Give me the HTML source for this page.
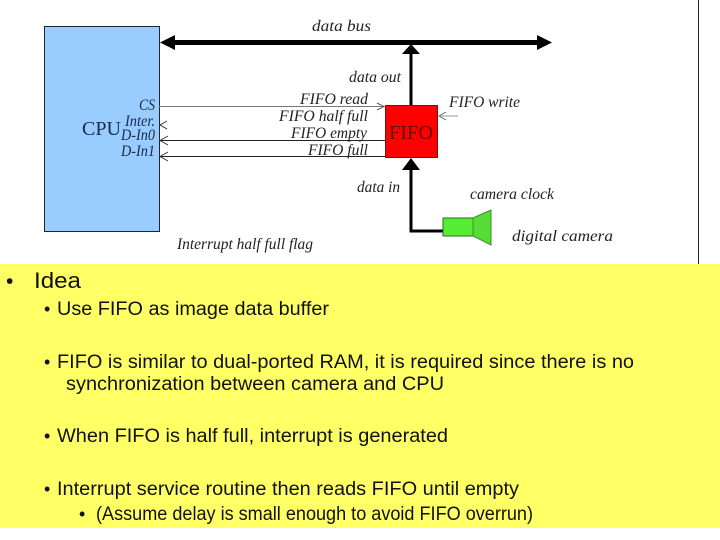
<!DOCTYPE html>
<html><head><meta charset="utf-8"><style>
html,body{margin:0;padding:0;background:#fff;width:720px;height:540px;overflow:hidden}
svg{display:block}
.s{font-family:"Liberation Serif",serif;font-style:italic;font-size:16px;fill:#222}
.a{font-family:"Liberation Sans",sans-serif;font-size:19px;fill:#111}
</style></head><body>
<svg width="720" height="540" viewBox="0 0 720 540" xmlns="http://www.w3.org/2000/svg">
<rect width="720" height="540" fill="#fff"/>
<line x1="698.500" y1="0" x2="698.500" y2="264" stroke="#222" stroke-width="1"/>
<rect x="44.500" y="26.500" width="115" height="205" fill="#99ccff" stroke="#223" stroke-width="1"/>
<line x1="172" y1="42.500" x2="540" y2="42.500" stroke="#000" stroke-width="5"/>
<polygon points="160,42.500 175,35 175,50" fill="#000"/>
<polygon points="552,42.500 537,35 537,50" fill="#000"/>
<line x1="411" y1="105" x2="411" y2="52" stroke="#000" stroke-width="3"/>
<polygon points="411,44 402,54 420,54" fill="#000"/>
<polyline points="411,170 411,231 443,231" fill="none" stroke="#000" stroke-width="3"/>
<polygon points="411,158 402,170 420,170" fill="#000"/>
<rect x="385.500" y="105.500" width="52" height="52" fill="#ff0000" stroke="#7a1010" stroke-width="1"/>
<text x="389" y="139" textLength="44" lengthAdjust="spacingAndGlyphs" font-family="Liberation Serif,serif" font-size="20" fill="#6a0505">FIFO</text>
<line x1="159" y1="106.500" x2="384" y2="106.500" stroke="#777" stroke-width="1"/>
<polyline points="377,103 384,106.500 377,110" fill="none" stroke="#555" stroke-width="1"/>
<polyline points="167,121 160,125 167,129" fill="none" stroke="#333" stroke-width="1"/>
<line x1="160" y1="140.500" x2="385" y2="140.500" stroke="#222" stroke-width="1"/>
<polyline points="168,136 160,140.500 168,145" fill="none" stroke="#333" stroke-width="1"/>
<line x1="160" y1="156.500" x2="385" y2="156.500" stroke="#222" stroke-width="1"/>
<polyline points="168,152 160,156.500 168,161" fill="none" stroke="#333" stroke-width="1"/>
<line x1="440" y1="116" x2="458" y2="116" stroke="#bbb" stroke-width="1.500"/>
<polyline points="446,112 439,116 446,120" fill="none" stroke="#666" stroke-width="1"/>
<rect x="443" y="218" width="30" height="18" fill="#55ee33" stroke="#2a6a20" stroke-width="1"/>
<polygon points="473,218 491,210 491,245 473,236" fill="#55dd33" stroke="#3a8a30" stroke-width="1"/>
<text class="s" x="312" y="31" textLength="59" lengthAdjust="spacingAndGlyphs">data bus</text>
<text class="s" x="349" y="82" textLength="52" lengthAdjust="spacingAndGlyphs">data out</text>
<text class="s" x="300" y="104" textLength="68" lengthAdjust="spacingAndGlyphs">FIFO read</text>
<text class="s" x="279" y="121" textLength="89" lengthAdjust="spacingAndGlyphs">FIFO half full</text>
<text class="s" x="291" y="138" textLength="76" lengthAdjust="spacingAndGlyphs">FIFO empty</text>
<text class="s" x="308" y="155" textLength="60" lengthAdjust="spacingAndGlyphs">FIFO full</text>
<text class="s" x="449" y="107" textLength="71" lengthAdjust="spacingAndGlyphs">FIFO write</text>
<text class="s" x="357" y="192" textLength="43" lengthAdjust="spacingAndGlyphs">data in</text>
<text class="s" x="470" y="199" textLength="84" lengthAdjust="spacingAndGlyphs">camera clock</text>
<text class="s" x="512" y="241" textLength="101" lengthAdjust="spacingAndGlyphs">digital camera</text>
<text class="s" x="177" y="249" textLength="136" lengthAdjust="spacingAndGlyphs">Interrupt half full flag</text>
<text class="s" x="139" y="110" textLength="16" lengthAdjust="spacingAndGlyphs" style="fill:#1a2a4a">CS</text>
<text class="s" x="125" y="126" textLength="30" lengthAdjust="spacingAndGlyphs" style="fill:#1a2a4a">Inter.</text>
<text class="s" x="121" y="140" textLength="34" lengthAdjust="spacingAndGlyphs" style="fill:#1a2a4a">D-In0</text>
<text class="s" x="121" y="156" textLength="34" lengthAdjust="spacingAndGlyphs" style="fill:#1a2a4a">D-In1</text>
<text x="82" y="135" textLength="39" lengthAdjust="spacingAndGlyphs" font-family="Liberation Serif,serif" font-size="20" fill="#1a2a4a">CPU</text>
<rect x="0" y="264" width="720" height="264" fill="#ffff66"/>
<text class="a" x="6" y="288" style="font-size:21px">•</text>
<text class="a" x="34" y="288" textLength="47" lengthAdjust="spacingAndGlyphs" style="font-size:22px">Idea</text>
<text class="a" x="44" y="315" style="font-size:18px">•</text>
<text class="a" x="57" y="315" textLength="272" lengthAdjust="spacingAndGlyphs">Use FIFO as image data buffer</text>
<text class="a" x="44" y="368" style="font-size:18px">•</text>
<text class="a" x="57" y="368" textLength="577" lengthAdjust="spacingAndGlyphs">FIFO is similar to dual-ported RAM, it is required since there is no</text>
<text class="a" x="66" y="390" textLength="378" lengthAdjust="spacingAndGlyphs">synchronization between camera and CPU</text>
<text class="a" x="44" y="442" style="font-size:18px">•</text>
<text class="a" x="57" y="442" textLength="391" lengthAdjust="spacingAndGlyphs">When FIFO is half full, interrupt is generated</text>
<text class="a" x="44" y="495" style="font-size:18px">•</text>
<text class="a" x="57" y="495" textLength="462" lengthAdjust="spacingAndGlyphs">Interrupt service routine then reads FIFO until empty</text>
<text class="a" x="79" y="520" style="font-size:18px">•</text>
<text class="a" x="96" y="520" textLength="437" lengthAdjust="spacingAndGlyphs" style="font-size:19px">(Assume delay is small enough to avoid FIFO overrun)</text>
</svg>
</body></html>
